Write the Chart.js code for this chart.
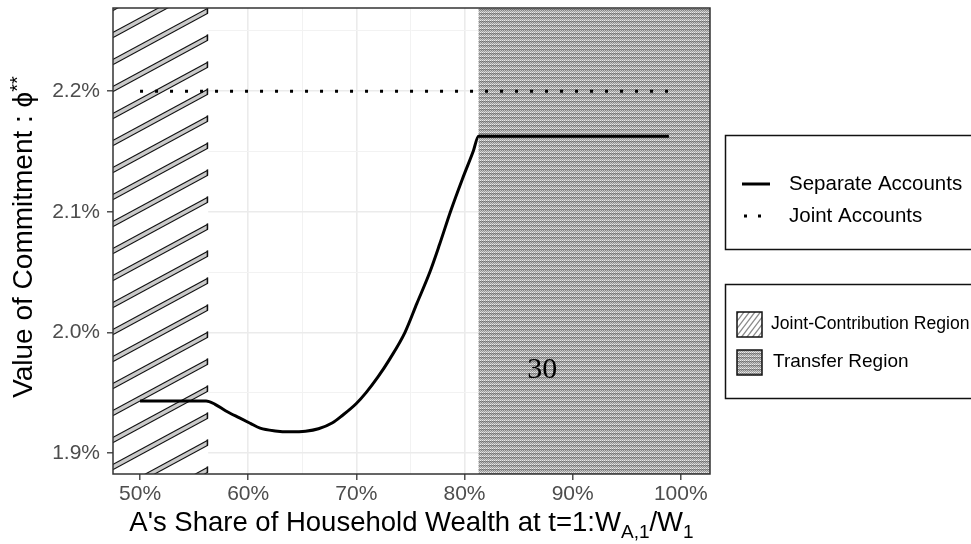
<!DOCTYPE html>
<html>
<head>
<meta charset="utf-8">
<script src="https://cdn.jsdelivr.net/npm/chart.js@4.4.1/dist/chart.umd.min.js"></script>
<style>
  html, body { margin: 0; padding: 0; background: #fff; }
  canvas { display: block; }
</style>
</head>
<body>
<canvas id="grafico" width="971" height="544"></canvas>
<script>
// valores
const shareX = [50.0, 56.1, 56.9, 57.9, 59.2, 60.2, 61.1, 62.5, 63.9, 65.3, 66.5, 67.8, 68.7,
  70.0, 70.9, 72.0, 73.1, 74.5, 75.6, 76.8, 77.7, 78.7, 79.8, 80.8, 81.3, 98.9];
const separateY = [1.943, 1.943, 1.9405, 1.935, 1.929, 1.9245, 1.9205, 1.9182, 1.9175, 1.918, 1.920, 1.925, 1.931,
  1.941, 1.950, 1.963, 1.978, 2.000, 2.024, 2.050, 2.073, 2.100, 2.127, 2.150, 2.1627, 2.1627];
const jointX = [50, 98.9];
const jointY = [2.2, 2.2];

const jointRegion = [47.5, 56.3];
const transferRegion = [81.3, 102.7];

const xTicks = [50, 55, 60, 65, 70, 75, 80, 85, 90, 95, 100];
const xTickLabels = ['50%', '', '60%', '', '70%', '', '80%', '', '90%', '', '100%'];
const yTicks = [1.90, 1.95, 2.00, 2.05, 2.10, 2.15, 2.20, 2.25];
const yTickLabels = ['1.9%', '', '2.0%', '', '2.1%', '', '2.2%', ''];

const seriesNames = ['Separate Accounts', 'Joint Accounts'];
const regionNames = ['Joint-Contribution Region', 'Transfer Region'];
const nota = { text: '30', x: 87.2, y: 1.969 };

const FONT = '"Liberation Sans", Arial, sans-serif';
Chart.defaults.font.family = FONT;

function texturaTransfer(ctx) {
  const c = document.createElement('canvas');
  c.width = 4; c.height = 4;
  const g = c.getContext('2d');
  const tonos = [
    [236, 165, 236, 170],
    [115, 155, 110, 155],
    [196, 128, 196, 130],
    [155, 210, 155, 205]
  ];
  tonos.forEach((fila, j) => fila.forEach((v, i) => {
    g.fillStyle = `rgb(${v},${v},${v})`;
    g.fillRect(i, j, 1, 1);
  }));
  return ctx.createPattern(c, 'repeat');
}

// rayas diagonales con relleno gris y borde negro
function rayas(ctx, x0, y0, x1, y1, paso, pendiente, grueso, gris) {
  const dy = pendiente * (x1 - x0);
  ctx.save();
  ctx.beginPath();
  ctx.rect(x0, y0, x1 - x0, y1 - y0);
  ctx.clip();
  ctx.lineCap = 'butt';
  for (let ys = y0 - Math.ceil(dy / paso + 1) * paso; ys < y1 + dy + paso; ys += paso) {
    ctx.beginPath();
    ctx.moveTo(x0 - 2, ys + 2 * pendiente);
    ctx.lineTo(x1 + 2, ys - dy - 2 * pendiente);
    ctx.strokeStyle = '#111';
    ctx.lineWidth = grueso;
    ctx.stroke();
    ctx.strokeStyle = gris;
    ctx.lineWidth = grueso - 2.2;
    ctx.stroke();
    const h = grueso / Math.cos(Math.atan(pendiente)) / 2;
    ctx.beginPath();
    ctx.moveTo(x1 - 0.75, ys - dy - h);
    ctx.lineTo(x1 - 0.75, ys - dy + h);
    ctx.strokeStyle = '#111';
    ctx.lineWidth = 1.5;
    ctx.stroke();
  }
  ctx.restore();
}

function textoRico(ctx, partes, cx, base, tam) {
  const fuente = p => `${p[1] ? Math.round(tam * 0.7) : tam}px ${FONT}`;
  const ancho = p => { ctx.font = fuente(p); return ctx.measureText(p[0]).width; };
  const total = partes.reduce((s, p) => s + ancho(p), 0);
  let x = cx - total / 2;
  ctx.textAlign = 'left';
  ctx.textBaseline = 'alphabetic';
  partes.forEach(p => {
    const w = ancho(p);
    const dy = p[1] === -1 ? tam * 0.26 : p[1] === 1 ? -tam * 0.3 : 0;
    ctx.fillText(p[0], x, base + dy);
    x += w;
  });
}

const regiones = {
  id: 'regiones',
  beforeDatasetsDraw(chart) {
    const { ctx, chartArea: a, scales: { x } } = chart;
    const jx = x.getPixelForValue(jointRegion[1]);
    ctx.save();
    ctx.fillStyle = '#fff';
    ctx.fillRect(a.left, a.top, jx - a.left, a.bottom - a.top);
    rayas(ctx, a.left, a.top, jx, a.bottom, 27, 0.54, 5.5, '#cacaca');
    const tx = x.getPixelForValue(transferRegion[0]);
    ctx.fillStyle = texturaTransfer(ctx);
    ctx.fillRect(tx, a.top, a.right - tx, a.bottom - a.top);
    ctx.restore();
  },
  afterDatasetsDraw(chart) {
    const { ctx, chartArea: a, scales: { x, y } } = chart;
    ctx.save();
    ctx.fillStyle = '#000';
    ctx.font = '30px "Liberation Serif", "DejaVu Serif", serif';
    ctx.textAlign = 'center';
    ctx.textBaseline = 'middle';
    ctx.fillText(nota.text, x.getPixelForValue(nota.x), y.getPixelForValue(nota.y));
    ctx.strokeStyle = '#333';
    ctx.lineWidth = 1.5;
    ctx.strokeRect(a.left, a.top, a.right - a.left, a.bottom - a.top);
    ctx.restore();
  },
  afterDraw(chart) {
    const { ctx, chartArea: a } = chart;
    ctx.save();
    ctx.fillStyle = '#000';
    // titulos de ejes
    textoRico(ctx, [["A's Share of Household Wealth at t=1:W", 0], ['A,1', -1], ['/W', 0], ['1', -1]],
      (a.left + a.right) / 2, 531, 27.5);
    ctx.save();
    ctx.translate(32, 237);
    ctx.rotate(-Math.PI / 2);
    textoRico(ctx, [['Value of Commitment : \u03D5', 0], ['**', 1]], 0, 0, 28);
    ctx.restore();

    // leyenda de series
    ctx.strokeStyle = '#111';
    ctx.lineWidth = 1.5;
    ctx.strokeRect(725.5, 135.5, 260, 114);
    ctx.beginPath();
    ctx.moveTo(742, 184); ctx.lineTo(770, 184);
    ctx.lineWidth = 3; ctx.strokeStyle = '#000';
    ctx.stroke();
    ctx.setLineDash([3, 11]);
    ctx.beginPath();
    ctx.moveTo(744, 216); ctx.lineTo(770, 216);
    ctx.stroke();
    ctx.setLineDash([]);
    ctx.font = `20.5px ${FONT}`;
    ctx.textAlign = 'left';
    ctx.textBaseline = 'middle';
    ctx.fillText(seriesNames[0], 789, 184);
    ctx.fillText(seriesNames[1], 789, 216);

    // leyenda de regiones
    ctx.strokeStyle = '#111';
    ctx.lineWidth = 1.5;
    ctx.strokeRect(725.5, 284.5, 260, 114);
    ctx.fillStyle = '#fff';
    ctx.fillRect(737, 312, 25, 25);
    ctx.save();
    ctx.beginPath();
    ctx.rect(737, 312, 25, 25);
    ctx.clip();
    ctx.strokeStyle = '#8a8a8a';
    ctx.lineWidth = 1.3;
    for (let k = -30; k < 30; k += 5.5) {
      ctx.beginPath();
      ctx.moveTo(737 + k, 339);
      ctx.lineTo(737 + k + 22, 310);
      ctx.stroke();
    }
    ctx.restore();
    ctx.strokeStyle = '#111';
    ctx.lineWidth = 1.5;
    ctx.strokeRect(737, 312, 25, 25);
    ctx.fillStyle = texturaTransfer(ctx);
    ctx.fillRect(737, 350, 25, 25);
    ctx.strokeRect(737, 350, 25, 25);
    ctx.fillStyle = '#000';
    ctx.font = `17.6px ${FONT}`;
    ctx.fillText(regionNames[0], 771, 324);
    ctx.font = `19px ${FONT}`;
    ctx.fillText(regionNames[1], 773, 362);
    ctx.restore();
  }
};

const esMenor = lbls => c => lbls[c.index] === '';
const sinRelleno = s => { s.paddingTop = 0; s.paddingBottom = 0; s.paddingLeft = 0; s.paddingRight = 0; };

new Chart(document.getElementById('grafico'), {
  type: 'line',
  data: {
    datasets: [
      {
        label: seriesNames[0],
        data: shareX.map((v, i) => ({ x: v, y: separateY[i] })),
        borderColor: '#000',
        borderWidth: 3,
        pointRadius: 0,
        cubicInterpolationMode: 'monotone',
        fill: false
      },
      {
        label: seriesNames[1],
        data: jointX.map((v, i) => ({ x: v, y: jointY[i] })),
        borderColor: '#000',
        borderWidth: 3,
        borderDash: [3, 12],
        borderCapStyle: 'butt',
        pointRadius: 0,
        fill: false
      }
    ]
  },
  options: {
    responsive: false,
    animation: false,
    devicePixelRatio: 1,
    layout: { padding: { left: 0, right: 261, top: 8, bottom: 0 } },
    plugins: { legend: { display: false }, tooltip: { enabled: false } },
    scales: {
      x: {
        type: 'linear',
        min: 47.5,
        max: 102.7,
        afterFit: s => { s.height = 70; sinRelleno(s); },
        afterBuildTicks: s => { s.ticks = xTicks.map(v => ({ value: v })); },
        border: { display: false },
        grid: {
          color: c => esMenor(xTickLabels)(c) ? '#f2f2f2' : '#ebebeb',
          lineWidth: c => esMenor(xTickLabels)(c) ? 1 : 1.6,
          tickColor: c => esMenor(xTickLabels)(c) ? 'rgba(0,0,0,0)' : '#333',
          tickWidth: 1.3,
          tickLength: 6
        },
        ticks: {
          autoSkip: false,
          maxRotation: 0,
          padding: 2,
          color: '#4d4d4d',
          font: { size: 21 },
          callback: (v, i) => xTickLabels[i]
        }
      },
      y: {
        min: 1.8825,
        max: 2.269,
        afterFit: s => { s.width = 113; sinRelleno(s); },
        afterBuildTicks: s => { s.ticks = yTicks.map(v => ({ value: v })); },
        border: { display: false },
        grid: {
          color: c => esMenor(yTickLabels)(c) ? '#f2f2f2' : '#ebebeb',
          lineWidth: c => esMenor(yTickLabels)(c) ? 1 : 1.6,
          tickColor: c => esMenor(yTickLabels)(c) ? 'rgba(0,0,0,0)' : '#333',
          tickWidth: 1.3,
          tickLength: 6
        },
        ticks: {
          autoSkip: false,
          padding: 7,
          color: '#4d4d4d',
          font: { size: 21 },
          callback: (v, i) => yTickLabels[i]
        }
      }
    }
  },
  plugins: [regiones]
});
</script>
</body>
</html>
